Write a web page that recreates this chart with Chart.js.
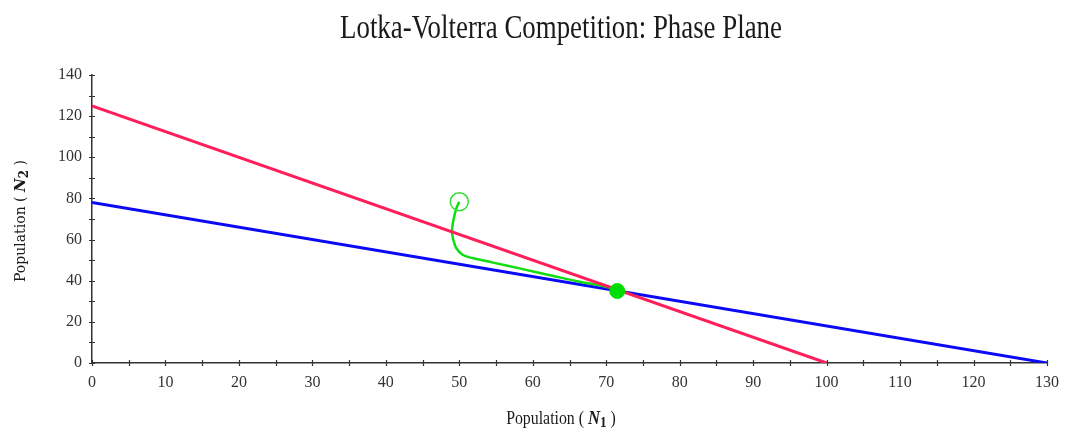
<!DOCTYPE html>
<html>
<head>
<meta charset="utf-8">
<script src="https://cdn.jsdelivr.net/npm/chart.js@4/dist/chart.umd.min.js"></script>
<style>
  html, body { margin: 0; padding: 0; background: #fff; }
  #phase { display: block; }
</style>
</head>
<body>
<canvas id="phase" width="1066" height="434"></canvas>
<script>
// nullclines (isoclines) of the two species
const n1IsoclineX = [0, 100];
const n1IsoclineY = [125, 0];
const n2IsoclineX = [0, 130];
const n2IsoclineY = [78, 0];

// trajectory from the initial populations to equilibrium
const trajN1 = [50.0, 49.6, 49.2, 49.0, 49.2, 49.6, 50.5, 51.9, 54.6, 58.2, 62.8, 66.4, 70.0, 71.5];
const trajN2 = [78.4, 75.2, 69.5, 63.8, 59.8, 55.8, 52.5, 50.9, 48.8, 46.0, 42.3, 39.5, 37.1, 35.0];

const startPoint = [50, 78.4];
const equilibrium = [71.5, 35];

// axis ranges / tick spacing
const xRange = [0, 130];
const yRange = [0, 140];
const xMinorStep = 5, xLabelStep = 10;
const yMinorStep = 10, yLabelStep = 20;

function pts(xs, ys) {
  return xs.map((x, i) => ({ x: x, y: ys[i] }));
}

// ticks crossing the axis line on both sides
const crossTicks = {
  id: "crossTicks",
  afterDraw(chart) {
    const ctx = chart.ctx;
    const xs = chart.scales.x, ys = chart.scales.y;
    const a = chart.chartArea;
    ctx.save();
    ctx.strokeStyle = "#333";
    ctx.lineWidth = 1.2;
    ctx.beginPath();
    xs.ticks.forEach(t => {
      const px = Math.round(xs.getPixelForValue(t.value)) + 0.5;
      ctx.moveTo(px, a.bottom - 3);
      ctx.lineTo(px, a.bottom + 3);
    });
    ys.ticks.forEach(t => {
      const py = Math.round(ys.getPixelForValue(t.value)) + 0.5;
      ctx.moveTo(a.left - 3, py);
      ctx.lineTo(a.left + 3, py);
    });
    ctx.stroke();
    ctx.restore();
  }
};

// draws a run of text pieces, squeezed horizontally by sx
function drawRuns(ctx, runs, x, y, sx) {
  let w = 0;
  runs.forEach(r => { ctx.font = r.font; w += ctx.measureText(r.text).width; });
  ctx.save();
  ctx.translate(x, y);
  ctx.scale(sx, 1);
  let cx = -w / 2;
  runs.forEach(r => {
    ctx.font = r.font;
    ctx.fillText(r.text, cx, r.dy || 0);
    cx += ctx.measureText(r.text).width;
  });
  ctx.restore();
}

const titles = {
  id: "titles",
  afterDraw(chart) {
    const ctx = chart.ctx;
    ctx.save();
    ctx.fillStyle = "#1a1a1a";
    ctx.textBaseline = "alphabetic";

    // main title
    drawRuns(ctx, [{ text: "Lotka-Volterra Competition: Phase Plane", font: "34px 'Liberation Serif'" }],
      561, 38, 0.79);

    // x axis title
    drawRuns(ctx, [
      { text: "Population ( ", font: "18px 'Liberation Serif'" },
      { text: "N", font: "italic bold 19px 'Liberation Serif'" },
      { text: "1", font: "bold 15px 'Liberation Serif'", dy: 3 },
      { text: " )", font: "18px 'Liberation Serif'" }
    ], 561, 424, 0.88);

    // y axis title
    ctx.save();
    ctx.translate(25, 221);
    ctx.rotate(-Math.PI / 2);
    drawRuns(ctx, [
      { text: "Population ( ", font: "14px 'DejaVu Serif'" },
      { text: "N", font: "italic bold 15px 'DejaVu Serif'" },
      { text: "2", font: "bold 12px 'DejaVu Serif'", dy: 3 },
      { text: " )", font: "14px 'DejaVu Serif'" }
    ], 0, 0, 1);
    ctx.restore();

    ctx.restore();
  }
};

new Chart(document.getElementById("phase").getContext("2d"), {
  type: "scatter",
  data: {
    datasets: [
      {
        label: "equilibrium",
        data: pts([equilibrium[0]], [equilibrium[1]]),
        pointRadius: 7.5,
        pointBackgroundColor: "#00dd00",
        pointBorderColor: "#00dd00",
        order: 0
      },
      {
        label: "start",
        data: pts([startPoint[0]], [startPoint[1]]),
        pointRadius: 9,
        pointBackgroundColor: "rgba(0,0,0,0)",
        pointBorderColor: "#33dd33",
        pointBorderWidth: 1.5,
        order: 1
      },
      {
        label: "N1 isocline",
        data: pts(n1IsoclineX, n1IsoclineY),
        showLine: true,
        borderColor: "#ff1f5a",
        borderWidth: 3,
        pointRadius: 0,
        order: 2
      },
      {
        label: "trajectory",
        data: pts(trajN1, trajN2),
        showLine: true,
        borderColor: "#11dd11",
        borderWidth: 2.5,
        tension: 0.4,
        pointRadius: 0,
        order: 3
      },
      {
        label: "N2 isocline",
        data: pts(n2IsoclineX, n2IsoclineY),
        showLine: true,
        borderColor: "#0a0af5",
        borderWidth: 3,
        pointRadius: 0,
        order: 4
      }
    ]
  },
  options: {
    responsive: false,
    animation: false,
    layout: { padding: { top: 75, right: 19, left: 0, bottom: 0 } },
    plugins: {
      legend: { display: false },
      title: { display: false },
      tooltip: { enabled: false }
    },
    scales: {
      x: {
        type: "linear",
        min: xRange[0],
        max: xRange[1],
        afterFit: s => { s.height = 71; },
        grid: { display: false },
        border: { display: true, color: "#333", width: 1.5 },
        ticks: {
          stepSize: xMinorStep,
          autoSkip: false,
          maxRotation: 0,
          padding: 2,
          color: "#333",
          font: { family: "'Liberation Serif'", size: 16 },
          callback: v => (v % xLabelStep === 0 ? String(v) : "")
        }
      },
      y: {
        type: "linear",
        min: yRange[0],
        max: yRange[1],
        afterFit: s => { s.width = 92; },
        grid: { display: false },
        border: { display: true, color: "#333", width: 1.5 },
        ticks: {
          stepSize: yMinorStep,
          autoSkip: false,
          padding: 2,
          color: "#333",
          font: { family: "'Liberation Serif'", size: 16 },
          callback: v => (v % yLabelStep === 0 ? String(v) : "")
        }
      }
    }
  },
  plugins: [crossTicks, titles]
});
</script>
</body>
</html>
